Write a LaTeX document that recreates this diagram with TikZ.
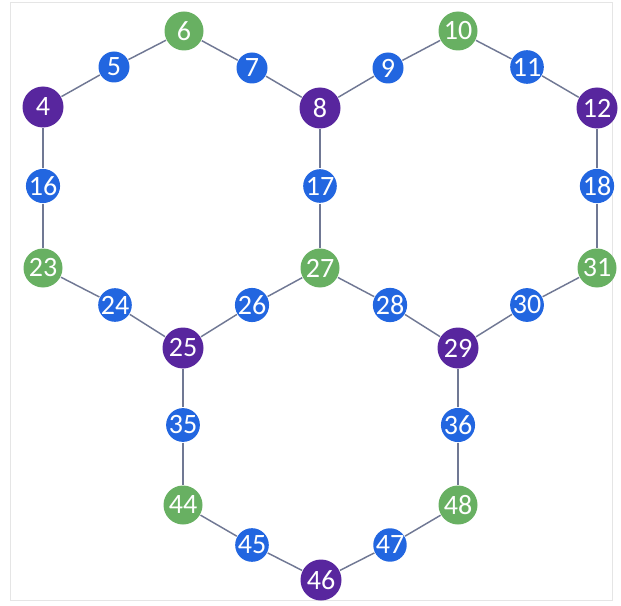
\documentclass[tikz,border=0pt]{standalone}
\usepackage{fontspec}
\setmainfont{Carlito}

\definecolor{hexpurple}{RGB}{88,38,158}
\definecolor{hexgreen}{RGB}{104,176,98}
\definecolor{hexblue}{RGB}{34,102,224}
\definecolor{hexedge}{RGB}{112,120,148}

\newlength{\unit}
\setlength{\unit}{0.75pt}
\tikzset{
  site/.style={circle, inner sep=0pt, text=white, font=\fontsize{21}{21}\selectfont},
  corner/.style={site, fill=hexpurple, minimum size=41\unit},
  mid/.style={site, fill=hexgreen, minimum size=39\unit},
  link/.style={site, fill=hexblue, minimum size=31\unit},
}

\begin{document}
\begin{tikzpicture}[x=0.75pt, y=-0.75pt, line width=1.1pt]
  \useasboundingbox (0,0) rectangle (621,606);
  \draw[line width=0.4pt, black!10] (10,2) rectangle (612,600);

  % top row
  \node[corner] (n4)  at (43,107)  {4};
  \node[link]   (n5)  at (114,67)  {5};
  \node[mid]    (n6)  at (184,31)  {6};
  \node[link]   (n7)  at (252,68)  {7};
  \node[corner] (n8)  at (320,108) {8};
  \node[link]   (n9)  at (388,68)  {9};
  \node[mid]    (n10) at (458,31)  {10};
  \node[link]   (n11) at (527,67)  {11};
  \node[corner] (n12) at (597,108) {12};
  % sides
  \node[link]   (n16) at (43,186)  {16};
  \node[link]   (n17) at (320,186) {17};
  \node[link]   (n18) at (597,186) {18};
  \node[mid]    (n23) at (43,268)  {23};
  \node[mid]    (n27) at (320,268) {27};
  \node[mid]    (n31) at (597,268) {31};
  \node[link]   (n24) at (115,305) {24};
  \node[link]   (n26) at (252,305) {26};
  \node[link]   (n28) at (390,305) {28};
  \node[link]   (n30) at (527,305) {30};
  \node[corner] (n25) at (183,348) {25};
  \node[corner] (n29) at (458,348) {29};
  % bottom hexagon
  \node[link]   (n35) at (183,425) {35};
  \node[link]   (n36) at (458,425) {36};
  \node[mid]    (n44) at (183,505) {44};
  \node[mid]    (n48) at (458,505) {48};
  \node[link]   (n45) at (252,545) {45};
  \node[link]   (n47) at (390,545) {47};
  \node[corner] (n46) at (321,580) {46};

  \foreach \a/\b in {4/5, 5/6, 6/7, 7/8, 8/9, 9/10, 10/11, 11/12,
                     4/16, 16/23, 8/17, 17/27, 12/18, 18/31,
                     23/24, 24/25, 25/26, 26/27, 27/28, 28/29, 29/30, 30/31,
                     25/35, 35/44, 29/36, 36/48, 44/45, 45/46, 46/47, 47/48}
    \draw[hexedge] (n\a) -- (n\b);
\end{tikzpicture}
\end{document}
